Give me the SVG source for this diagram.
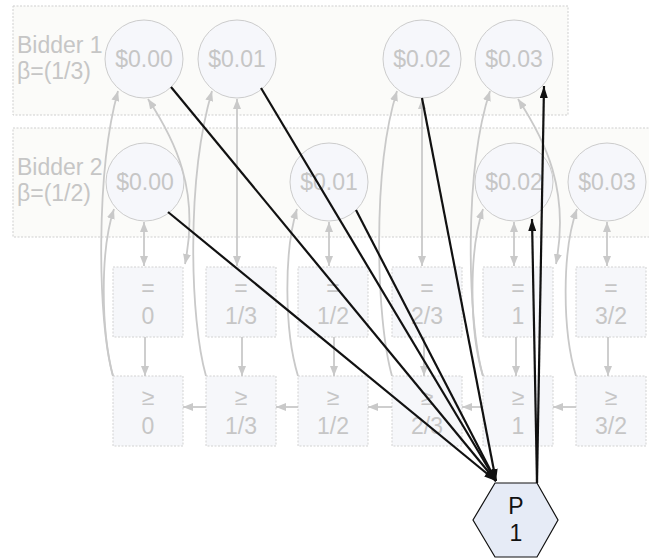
<svg xmlns="http://www.w3.org/2000/svg" width="649" height="558" viewBox="0 0 649 558">
  <style>
    .cluster { fill: #fbfbf9; stroke: #cfcfcf; stroke-width: 1; stroke-dasharray: 2 1.5; }
    .lbl { font-family: "Liberation Sans", Arial, sans-serif; font-size: 23px; fill: #c6c6c6; }
    .bid { fill: #f6f7fb; stroke: #cccccc; stroke-width: 1; }
    .box { fill: #f6f7fa; stroke: #d2d2d2; stroke-width: 1; stroke-dasharray: 2 1.5; }
    .ntxt { font-family: "Liberation Sans", Arial, sans-serif; font-size: 23px; fill: #c6c6c6; text-anchor: middle; }
    .g { fill: none; stroke: #c9c9c9; stroke-width: 1.8; }
    .k { fill: none; stroke: #111111; stroke-width: 2.2; }
    .ptxt { font-family: "Liberation Sans", Arial, sans-serif; font-size: 23px; fill: #111111; text-anchor: middle; }
  </style>
  <defs>
    <marker id="ga" viewBox="0 0 10 8" refX="10" refY="4" markerWidth="10" markerHeight="8" markerUnits="userSpaceOnUse" orient="auto-start-reverse">
      <path d="M0,0 L10,4 L0,8 z" fill="#c9c9c9"/>
    </marker>
    <marker id="ka" viewBox="0 0 12 8" refX="12" refY="4" markerWidth="12" markerHeight="8" markerUnits="userSpaceOnUse" orient="auto">
      <path d="M0,0 L12,4 L0,8 z" fill="#111111"/>
    </marker>
  </defs>

  <!-- bidder clusters -->
  <g id="cluster-bidder1">
    <rect class="cluster" x="13" y="6" width="555" height="109"/>
    <text class="lbl" x="17" y="53">Bidder 1</text>
    <text class="lbl" x="17" y="79">β=(1/3)</text>
  </g>
  <g id="cluster-bidder2">
    <rect class="cluster" x="13" y="128" width="640" height="109"/>
    <text class="lbl" x="17" y="175">Bidder 2</text>
    <text class="lbl" x="17" y="201">β=(1/2)</text>
  </g>

  <!-- bid nodes -->
  <g id="b1_000"><circle class="bid" cx="144" cy="59" r="39"/><text class="ntxt" x="144" y="67">$0.00</text></g>
  <g id="b1_001"><circle class="bid" cx="237" cy="59" r="39"/><text class="ntxt" x="237" y="67">$0.01</text></g>
  <g id="b1_002"><circle class="bid" cx="422" cy="59" r="39"/><text class="ntxt" x="422" y="67">$0.02</text></g>
  <g id="b1_003"><circle class="bid" cx="514" cy="59" r="39"/><text class="ntxt" x="514" y="67">$0.03</text></g>
  <g id="b2_000"><circle class="bid" cx="145" cy="182" r="39"/><text class="ntxt" x="145" y="190">$0.00</text></g>
  <g id="b2_001"><circle class="bid" cx="329" cy="182" r="39"/><text class="ntxt" x="329" y="190">$0.01</text></g>
  <g id="b2_002"><circle class="bid" cx="514" cy="182" r="39"/><text class="ntxt" x="514" y="190">$0.02</text></g>
  <g id="b2_003"><circle class="bid" cx="607" cy="182" r="39"/><text class="ntxt" x="607" y="190">$0.03</text></g>

  <!-- ratio nodes: equal -->
  <g id="eq_0"><rect class="box" x="113" y="267" width="70" height="70"/><text class="ntxt" x="148" y="296">=</text><text class="ntxt" x="148" y="324">0</text></g>
  <g id="eq_1_3"><rect class="box" x="206" y="267" width="70" height="70"/><text class="ntxt" x="241" y="296">=</text><text class="ntxt" x="241" y="324">1/3</text></g>
  <g id="eq_1_2"><rect class="box" x="298" y="267" width="70" height="70"/><text class="ntxt" x="333" y="296">=</text><text class="ntxt" x="333" y="324">1/2</text></g>
  <g id="eq_2_3"><rect class="box" x="392" y="267" width="70" height="70"/><text class="ntxt" x="427" y="296">=</text><text class="ntxt" x="427" y="324">2/3</text></g>
  <g id="eq_1"><rect class="box" x="483" y="267" width="70" height="70"/><text class="ntxt" x="518" y="296">=</text><text class="ntxt" x="518" y="324">1</text></g>
  <g id="eq_3_2"><rect class="box" x="576" y="267" width="70" height="70"/><text class="ntxt" x="611" y="296">=</text><text class="ntxt" x="611" y="324">3/2</text></g>

  <!-- ratio nodes: at least -->
  <g id="ge_0"><rect class="box" x="113" y="376" width="70" height="70"/><text class="ntxt" x="148" y="405">≥</text><text class="ntxt" x="148" y="434">0</text></g>
  <g id="ge_1_3"><rect class="box" x="206" y="376" width="70" height="70"/><text class="ntxt" x="241" y="405">≥</text><text class="ntxt" x="241" y="434">1/3</text></g>
  <g id="ge_1_2"><rect class="box" x="298" y="376" width="70" height="70"/><text class="ntxt" x="333" y="405">≥</text><text class="ntxt" x="333" y="434">1/2</text></g>
  <g id="ge_2_3"><rect class="box" x="392" y="376" width="70" height="70"/><text class="ntxt" x="427" y="405">≥</text><text class="ntxt" x="427" y="434">2/3</text></g>
  <g id="ge_1"><rect class="box" x="483" y="376" width="70" height="70"/><text class="ntxt" x="518" y="405">≥</text><text class="ntxt" x="518" y="434">1</text></g>
  <g id="ge_3_2"><rect class="box" x="576" y="376" width="70" height="70"/><text class="ntxt" x="611" y="405">≥</text><text class="ntxt" x="611" y="434">3/2</text></g>

  <!-- connectors -->
  <g id="edges">
    <!-- bid <-> equal ratio -->
    <path class="g" d="M144,222 L144,266" marker-start="url(#ga)" marker-end="url(#ga)"/>
    <path class="g" d="M237,99 L237,266" marker-start="url(#ga)" marker-end="url(#ga)"/>
    <path class="g" d="M329,222 L329,266" marker-start="url(#ga)" marker-end="url(#ga)"/>
    <path class="g" d="M422,99 L422,266" marker-start="url(#ga)" marker-end="url(#ga)"/>
    <path class="g" d="M514,222 L514,266" marker-start="url(#ga)" marker-end="url(#ga)"/>
    <path class="g" d="M607,222 L607,266" marker-start="url(#ga)" marker-end="url(#ga)"/>
    <path class="g" d="M148,99 C175,140 200,190 185,264" marker-start="url(#ga)" marker-end="url(#ga)"/>
    <path class="g" d="M518,99 C545,140 570,190 556,264" marker-start="url(#ga)" marker-end="url(#ga)"/>

    <!-- equal -> at least -->
    <path class="g" d="M145,337 L145,376" marker-end="url(#ga)"/>
    <path class="g" d="M242,337 L242,376" marker-end="url(#ga)"/>
    <path class="g" d="M334,337 L334,376" marker-end="url(#ga)"/>
    <path class="g" d="M424,337 L424,376" marker-end="url(#ga)"/>
    <path class="g" d="M516,337 L516,376" marker-end="url(#ga)"/>
    <path class="g" d="M608,337 L608,376" marker-end="url(#ga)"/>

    <!-- at least chain -->
    <path class="g" d="M206,407 L183,407" marker-end="url(#ga)"/>
    <path class="g" d="M298,407 L276,407" marker-end="url(#ga)"/>
    <path class="g" d="M392,407 L368,407" marker-end="url(#ga)"/>
    <path class="g" d="M483,407 L462,407" marker-end="url(#ga)"/>
    <path class="g" d="M576,407 L553,407" marker-end="url(#ga)"/>

    <!-- at least -> bids -->
    <path class="g" d="M113,376 C97,320 96,170 118,91" marker-end="url(#ga)"/>
    <path class="g" d="M113,376 C101,330 100,250 114,209" marker-end="url(#ga)"/>
    <path class="g" d="M206,376 C190,320 186,180 212,91" marker-end="url(#ga)"/>
    <path class="g" d="M298,376 C284,330 284,250 297,209" marker-end="url(#ga)"/>
    <path class="g" d="M392,376 C376,320 372,170 397,91" marker-end="url(#ga)"/>
    <path class="g" d="M483,376 C467,320 464,170 490,91" marker-end="url(#ga)"/>
    <path class="g" d="M483,376 C469,330 469,250 483,209" marker-end="url(#ga)"/>
    <path class="g" d="M576,376 C562,330 562,250 577,209" marker-end="url(#ga)"/>

    <!-- bids -> P1 -->
    <path class="k" d="M171,87 L496,481" marker-end="url(#ka)"/>
    <path class="k" d="M261,88 L496,481" marker-end="url(#ka)"/>
    <path class="k" d="M422,98 L496,481" marker-end="url(#ka)"/>
    <path class="k" d="M168,212 L496,481" marker-end="url(#ka)"/>
    <path class="k" d="M356,210 L496,481" marker-end="url(#ka)"/>
    <!-- P1 -> bids -->
    <path class="k" d="M537,483 L544,86" marker-end="url(#ka)"/>
    <path class="k" d="M537,483 L532,219" marker-end="url(#ka)"/>
  </g>

  <!-- player node -->
  <g id="p1">
    <polygon points="495,483 537,483 558,520 537,557 495,557 473,520" fill="#e6ebf6" stroke="#111111" stroke-width="1.2"/>
    <text class="ptxt" x="516" y="514">P</text>
    <text class="ptxt" x="516" y="541">1</text>
  </g>
</svg>
